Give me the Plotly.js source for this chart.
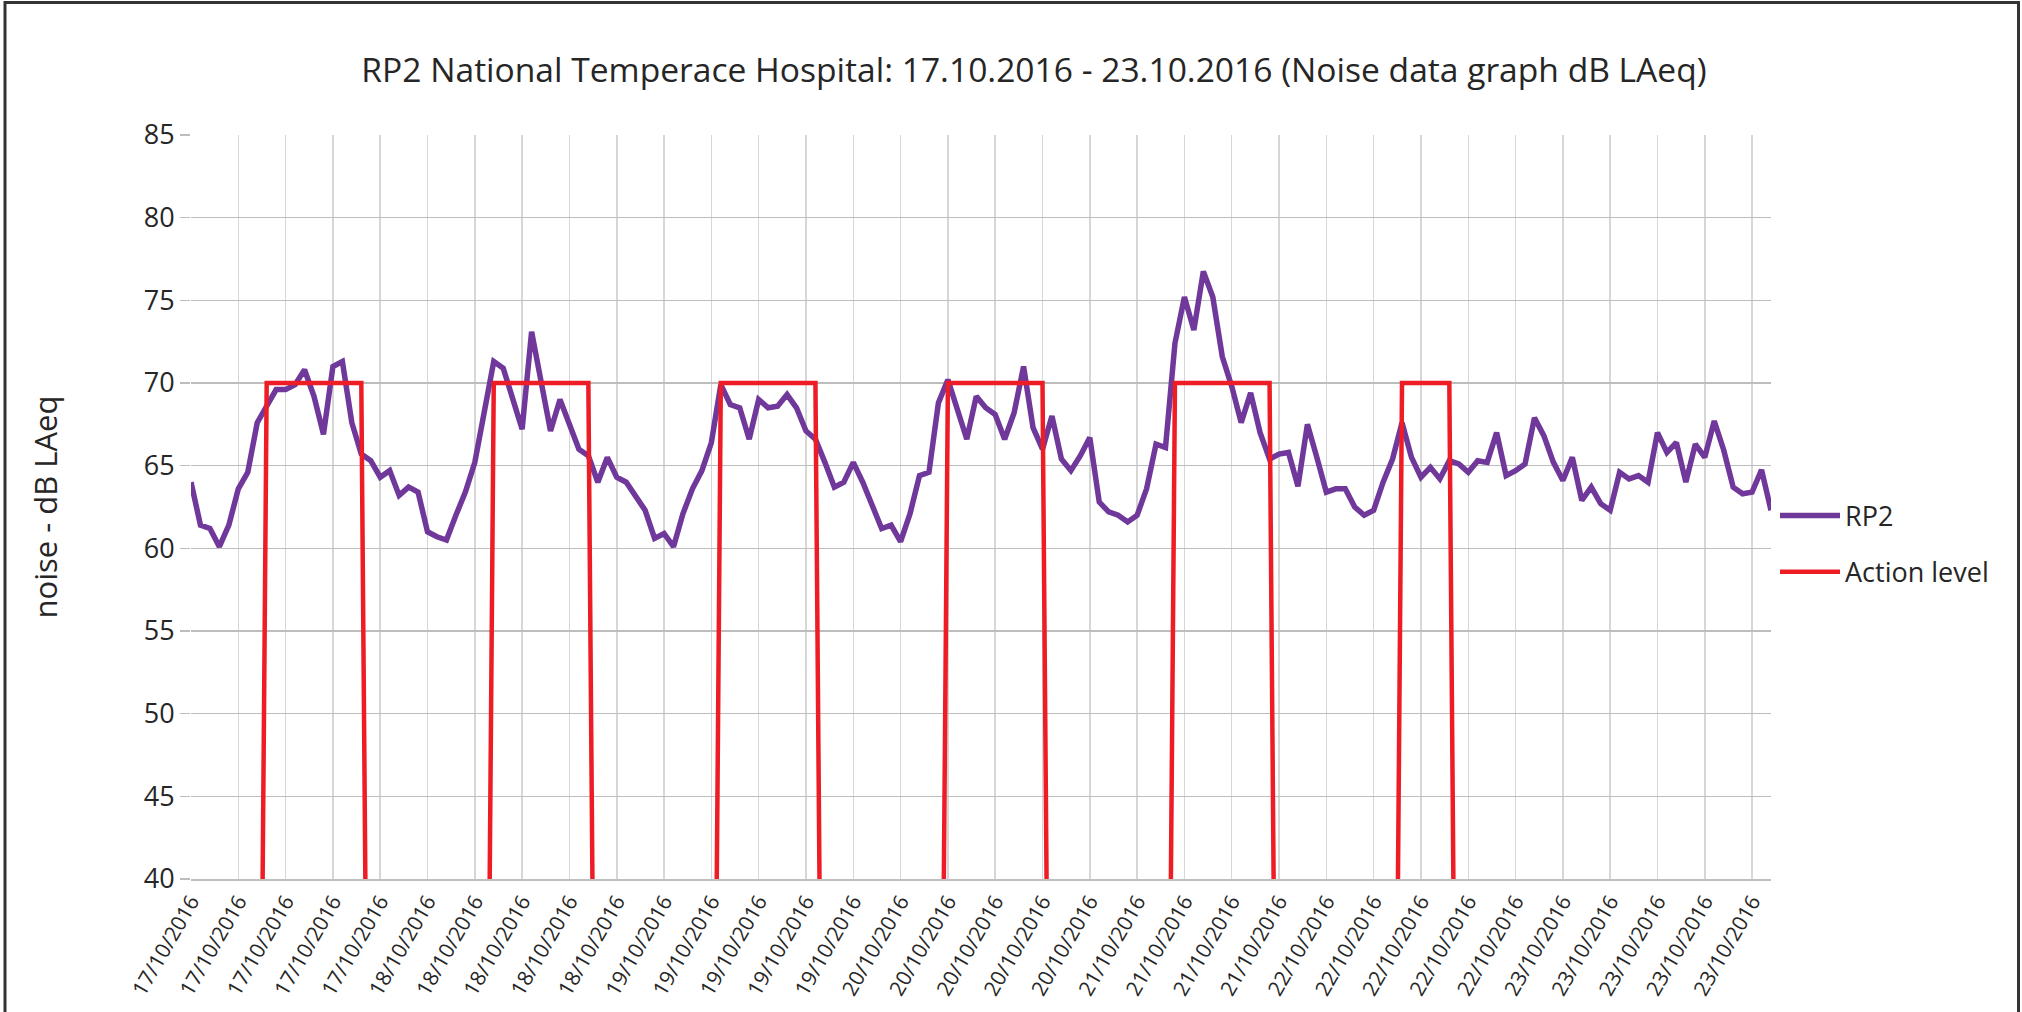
<!DOCTYPE html>
<html>
<head>
<meta charset="utf-8">
<script src="https://cdn.plot.ly/plotly-3.0.1.min.js"></script>
<style>
  html, body { margin: 0; padding: 0; background: #ffffff; }
  #chart { width: 2022px; height: 1012px; }
</style>
</head>
<body>
<div id="chart"></div>
<script>
// ---- Data (hourly LAeq readings, one array per day, 00:00 .. 23:00) ----
const days = ['2016-10-17', '2016-10-18', '2016-10-19', '2016-10-20', '2016-10-21', '2016-10-22', '2016-10-23'];

const rp2_17 = [64.0, 61.4, 61.2, 60.1, 61.4, 63.6, 64.6, 67.6, 68.6, 69.6, 69.6, 69.9, 70.8, 69.2, 66.9, 71.0, 71.3, 67.6, 65.7, 65.3, 64.3, 64.7, 63.2, 63.7];
const rp2_18 = [63.4, 61.0, 60.7, 60.5, 62.0, 63.4, 65.2, 68.1, 71.3, 70.9, 69.0, 67.2, 73.1, 69.9, 67.1, 69.0, 67.6, 66.0, 65.6, 64.0, 65.5, 64.3, 64.0, 63.1];
const rp2_19 = [62.3, 60.6, 60.9, 60.1, 62.1, 63.6, 64.7, 66.4, 69.9, 68.7, 68.5, 66.6, 69.0, 68.5, 68.6, 69.3, 68.5, 67.1, 66.6, 65.2, 63.7, 64.0, 65.2, 64.0];
const rp2_20 = [62.7, 61.2, 61.4, 60.4, 62.1, 64.4, 64.6, 68.8, 70.2, 68.5, 66.6, 69.2, 68.5, 68.1, 66.6, 68.2, 71.0, 67.3, 66.0, 68.0, 65.4, 64.7, 65.6, 66.7];
const rp2_21 = [62.8, 62.2, 62.0, 61.6, 62.0, 63.6, 66.3, 66.1, 72.4, 75.2, 73.2, 76.75, 75.2, 71.6, 69.8, 67.6, 69.4, 67.0, 65.4, 65.7, 65.8, 63.75, 67.5, 65.5];
const rp2_22 = [63.4, 63.6, 63.6, 62.5, 62.0, 62.3, 64.0, 65.4, 67.6, 65.5, 64.3, 64.9, 64.2, 65.3, 65.1, 64.6, 65.3, 65.2, 67.0, 64.4, 64.7, 65.1, 67.9, 66.8];
const rp2_23 = [65.2, 64.1, 65.5, 62.9, 63.7, 62.7, 62.3, 64.6, 64.2, 64.4, 64.0, 67.0, 65.8, 66.4, 64.0, 66.3, 65.5, 67.7, 65.95, 63.7, 63.3, 63.4, 64.75, 62.3];

const act_17 = [0, 0, 0, 0, 0, 0, 0, 0, 70, 70, 70, 70, 70, 70, 70, 70, 70, 70, 70, 0, 0, 0, 0, 0];
const act_18 = [0, 0, 0, 0, 0, 0, 0, 0, 70, 70, 70, 70, 70, 70, 70, 70, 70, 70, 70, 0, 0, 0, 0, 0];
const act_19 = [0, 0, 0, 0, 0, 0, 0, 0, 70, 70, 70, 70, 70, 70, 70, 70, 70, 70, 70, 0, 0, 0, 0, 0];
const act_20 = [0, 0, 0, 0, 0, 0, 0, 0, 70, 70, 70, 70, 70, 70, 70, 70, 70, 70, 70, 0, 0, 0, 0, 0];
const act_21 = [0, 0, 0, 0, 0, 0, 0, 0, 70, 70, 70, 70, 70, 70, 70, 70, 70, 70, 70, 0, 0, 0, 0, 0];
const act_22 = [0, 0, 0, 0, 0, 0, 0, 0, 70, 70, 70, 70, 70, 70, 0, 0, 0, 0, 0, 0, 0, 0, 0, 0];
const act_23 = [0, 0, 0, 0, 0, 0, 0, 0, 0, 0, 0, 0, 0, 0, 0, 0, 0, 0, 0, 0, 0, 0, 0, 0];

const seriesNames = ['RP2', 'Action level'];
const titleText = 'RP2 National Temperace Hospital: 17.10.2016 - 23.10.2016 (Noise data graph dB LAeq)';
const yTitle = 'noise - dB LAeq';
const tickLabelFormat = '%d/%m/%Y';

// ---- Build hourly timestamps from the day list ----
const rp2Days = [rp2_17, rp2_18, rp2_19, rp2_20, rp2_21, rp2_22, rp2_23];
const actDays = [act_17, act_18, act_19, act_20, act_21, act_22, act_23];
const x = [], rp2 = [], act = [];
days.forEach((d, di) => {
  rp2Days[di].forEach((v, h) => {
    x.push(d + ' ' + String(h).padStart(2, '0') + ':00');
    rp2.push(v);
    act.push(actDays[di][h]);
  });
});

const traces = [
  { x: x, y: rp2, name: seriesNames[0], type: 'scatter', mode: 'lines',
    line: { color: '#6F389A', width: 5.5 }, legendgroup: 'a' },
  { x: x, y: act, name: seriesNames[1], type: 'scatter', mode: 'lines',
    line: { color: '#EE1C25', width: 4.5 }, legendgroup: 'b' }
];

const L = 191, R = 1771, T = 135, B = 879, W = 2022, H = 1012;
const px = v => (v - L) / (R - L);
const py = v => (B - v) / (B - T);

const layout = {
  width: W, height: H,
  margin: { l: L, r: W - R, t: T, b: H - B, pad: 0 },
  paper_bgcolor: '#ffffff', plot_bgcolor: '#ffffff',
  font: { family: '"Open Sans", sans-serif', color: '#262626' },
  showlegend: true,
  title: { text: titleText, font: { size: 33.6, color: '#262626' },
           x: 1034 / W, xref: 'container', xanchor: 'center',
           y: 1 - 70 / H, yref: 'container', yanchor: 'middle' },
  xaxis: {
    type: 'date', range: [x[0], x[x.length - 1]],
    tick0: x[0], dtick: 5 * 3600 * 1000, tickformat: tickLabelFormat,
    tickangle: -60, tickfont: { size: 21, color: '#262626' },
    showgrid: true, gridcolor: '#D6D6D6', gridwidth: 1.5,
    showline: true, linecolor: '#BFBFBF', linewidth: 2,
    ticks: '', zeroline: false, fixedrange: true
  },
  yaxis: {
    range: [40, 85], tick0: 40, dtick: 5,
    tickfont: { size: 27, color: '#262626' },
    showgrid: true, gridcolor: '#BDBDBD', gridwidth: 1.5,
    ticks: 'outside', ticklen: 10, tickcolor: '#BDBDBD', tickwidth: 1.5,
    ticklabelstandoff: 0,
    showline: false, zeroline: false,
    title: { text: yTitle, font: { size: 31, color: '#262626' }, standoff: 76 }
  },
  legend: {
    x: px(1775), xanchor: 'left', y: py(544), yanchor: 'middle',
    font: { size: 27, color: '#262626' }, tracegroupgap: 18,
    traceorder: 'grouped', bgcolor: 'rgba(0,0,0,0)', itemwidth: 60
  },
  shapes: [{
    type: 'path', xref: 'paper', yref: 'paper',
    path: 'M ' + px(5) + ' ' + py(1030) + ' L ' + px(5) + ' ' + py(2.5) +
          ' L ' + px(2018.5) + ' ' + py(2.5) + ' L ' + px(2018.5) + ' ' + py(1030),
    line: { color: '#333333', width: 3 }
  }]
};

Plotly.newPlot('chart', traces, layout, { displayModeBar: false, staticPlot: true });
</script>
</body>
</html>
